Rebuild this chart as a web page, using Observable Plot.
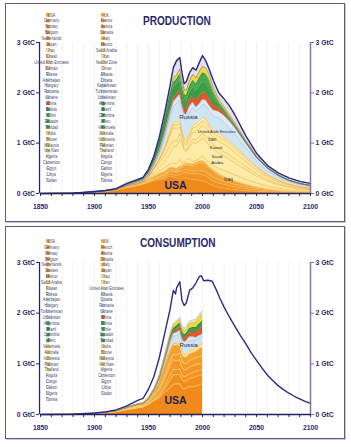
<!DOCTYPE html>
<html><head><meta charset="utf-8">
<script src="https://cdn.jsdelivr.net/npm/d3@7"></script>
<script src="https://cdn.jsdelivr.net/npm/@observablehq/plot@0.6"></script>
<style>
html,body{margin:0;padding:0;background:#fff;}
#page{position:relative;width:351px;height:447px;overflow:hidden;}
.panel{position:absolute;left:5px;width:340px;border:1.5px solid #5d5b8e;box-sizing:border-box;box-shadow:1px 1px 0 #c8c8d8;}
.chart{position:absolute;left:0;}
.title{position:absolute;font-weight:bold;font-size:12px;color:#2b2b6b;font-family:"Liberation Sans",Arial,sans-serif;white-space:nowrap;transform:scaleX(0.84);transform-origin:0 0;}
svg [aria-label="x-axis tick label"], svg [aria-label="y-axis tick label"]{font-weight:bold;}
</style></head><body><div id="page"></div>
<script>
const FONT = '"Liberation Sans",Arial,sans-serif';
// ---------- axes ----------
const decades = [1850,1860,1870,1880,1890,1900,1910,1920,1930,1940,1950,1960,1970,1980,1990,2000,2010,2020,2030,2040,2050,2060,2070,2080,2090,2100];
const xLabelYears = [1850,1900,1950,2000,2050,2100];
const yTicks = [0,1,2,3];

// ---------- PRODUCTION (GtC) ----------
const prodYears = [1850,1880,1900,1910,1920,1930,1940,1945,1950,1955,1960,1965,1970,1973,1976,1979,1981,1983,1985,1988,1991,1994,1997,2000,2003,2006,2010,2015,2020,2025,2030,2040,2050,2060,2070,2080,2090,2100];
const pUSA = [0,0.005,0.02,0.035,0.065,0.11,0.155,0.18,0.21,0.25,0.27,0.29,0.34,0.33,0.3,0.3,0.3,0.3,0.31,0.29,0.27,0.27,0.26,0.25,0.23,0.19,0.15,0.12,0.1,0.085,0.07,0.05,0.035,0.025,0.018,0.013,0.01,0.008];
const pMexico = [0,0,0,0.002,0.01,0.01,0.01,0.01,0.015,0.02,0.025,0.03,0.035,0.04,0.05,0.07,0.09,0.1,0.1,0.1,0.11,0.11,0.12,0.12,0.12,0.11,0.1,0.085,0.075,0.065,0.055,0.04,0.03,0.02,0.015,0.011,0.008,0.006];
const pCanada = [0,0,0,0,0,0,0.002,0.003,0.005,0.02,0.03,0.04,0.06,0.07,0.06,0.06,0.055,0.055,0.06,0.065,0.065,0.07,0.075,0.075,0.075,0.075,0.07,0.065,0.06,0.055,0.05,0.04,0.03,0.022,0.016,0.012,0.008,0.006];
const pUKNorway = [0,0,0,0,0,0,0,0,0,0,0,0,0,0.002,0.015,0.06,0.075,0.09,0.1,0.1,0.1,0.13,0.15,0.165,0.16,0.14,0.12,0.1,0.085,0.075,0.065,0.045,0.03,0.02,0.013,0.009,0.006,0.004];
const pOtherOECD = [0,0,0.005,0.008,0.005,0.02,0.023,0.027,0.04,0.05,0.07,0.08,0.08,0.08,0.07,0.05,0.04,0.04,0.04,0.04,0.04,0.04,0.04,0.04,0.035,0.03,0.03,0.025,0.02,0.018,0.015,0.012,0.01,0.007,0.005,0.004,0.003,0.002];
const pIraq = [0,0,0,0,0,0.002,0.003,0.004,0.007,0.035,0.054,0.075,0.08,0.085,0.095,0.14,0.04,0.045,0.06,0.11,0.05,0.04,0.05,0.11,0.055,0.075,0.09,0.11,0.12,0.118,0.114,0.096,0.073,0.053,0.038,0.027,0.02,0.016];
const pSaudi = [0,0,0,0,0,0,0.001,0.003,0.022,0.05,0.072,0.125,0.205,0.32,0.35,0.4,0.42,0.22,0.15,0.22,0.38,0.33,0.35,0.34,0.37,0.34,0.31,0.3,0.285,0.265,0.24,0.19,0.137,0.096,0.068,0.047,0.033,0.027];
const pKuwait = [0,0,0,0,0,0,0,0.001,0.015,0.06,0.092,0.13,0.16,0.13,0.095,0.11,0.05,0.045,0.043,0.065,0.06,0.08,0.09,0.09,0.095,0.1,0.09,0.09,0.087,0.082,0.077,0.064,0.046,0.033,0.024,0.016,0.012,0.009];
const pIran = [0,0,0,0,0,0.006,0.009,0.015,0.027,0.02,0.058,0.11,0.2,0.25,0.25,0.13,0.06,0.1,0.095,0.095,0.14,0.155,0.155,0.16,0.17,0.16,0.15,0.145,0.14,0.137,0.127,0.1,0.073,0.05,0.036,0.025,0.018,0.015];
const pUAE = [0,0,0,0,0,0,0,0,0,0,0,0.017,0.04,0.065,0.08,0.08,0.065,0.05,0.05,0.06,0.09,0.095,0.095,0.095,0.1,0.095,0.09,0.1,0.095,0.091,0.086,0.068,0.05,0.036,0.025,0.018,0.013,0.01];
const pOtherME = [0,0,0,0,0,0,0.002,0.002,0.004,0.015,0.026,0.033,0.05,0.05,0.05,0.05,0.045,0.045,0.05,0.05,0.055,0.06,0.065,0.065,0.065,0.06,0.055,0.055,0.05,0.046,0.041,0.032,0.023,0.016,0.012,0.008,0.006,0.005];
const pRussia = [0,0.0005,0.003,0.003,0.002,0.005,0.007,0.006,0.012,0.03,0.085,0.18,0.27,0.31,0.37,0.41,0.41,0.4,0.395,0.42,0.35,0.25,0.24,0.26,0.28,0.275,0.285,0.3,0.295,0.27,0.24,0.17,0.11,0.078,0.055,0.042,0.035,0.03];
const pOtherFSU = [0,0,0.007,0.007,0.002,0.01,0.02,0.011,0.023,0.035,0.055,0.08,0.09,0.09,0.1,0.1,0.1,0.1,0.105,0.11,0.1,0.08,0.08,0.09,0.1,0.105,0.115,0.13,0.135,0.13,0.12,0.09,0.06,0.042,0.03,0.023,0.02,0.018];
const pChina = [0,0,0,0,0,0,0,0,0,0,0.004,0.009,0.025,0.045,0.073,0.09,0.086,0.09,0.107,0.117,0.12,0.124,0.137,0.138,0.144,0.14,0.1,0.07,0.045,0.03,0.022,0.012,0.007,0.004,0.003,0.002,0.002,0.001];
const pVenezuela = [0,0,0,0,0.001,0.016,0.023,0.038,0.066,0.12,0.17,0.21,0.235,0.235,0.195,0.195,0.18,0.155,0.145,0.15,0.17,0.18,0.21,0.21,0.18,0.175,0.13,0.06,0.04,0.025,0.02,0.013,0.008,0.005,0.004,0.003,0.003,0.002];
const pOtherLatAm = [0,0,0,0.001,0.003,0.006,0.01,0.012,0.015,0.02,0.035,0.065,0.09,0.1,0.115,0.13,0.13,0.13,0.135,0.14,0.15,0.16,0.18,0.19,0.19,0.185,0.13,0.06,0.04,0.025,0.02,0.012,0.008,0.005,0.004,0.003,0.002,0.002];
const pAsia = [0,0,0.002,0.003,0.004,0.007,0.01,0.003,0.01,0.015,0.025,0.03,0.06,0.08,0.09,0.1,0.1,0.1,0.11,0.115,0.12,0.125,0.13,0.13,0.125,0.12,0.09,0.06,0.05,0.045,0.04,0.025,0.015,0.01,0.008,0.008,0.007,0.006];
const pAfrica = [0,0,0,0,0.003,0.003,0.005,0.005,0.01,0.01,0.05,0.095,0.13,0.225,0.28,0.225,0.154,0.115,0.165,0.153,0.13,0.151,0.173,0.212,0.146,0.105,0.14,0.15,0.16,0.17,0.155,0.09,0.055,0.04,0.036,0.035,0.033,0.03];
const prodTotal = [0,0.006,0.04,0.06,0.095,0.2,0.28,0.32,0.48,0.74,1.12,1.6,2.15,2.5,2.64,2.7,2.4,2.18,2.22,2.4,2.5,2.45,2.6,2.74,2.64,2.48,2.25,2.0,1.88,1.74,1.56,1.15,0.8,0.56,0.41,0.31,0.24,0.2];

const prodLabelText = ["Russia","United Arab Emirates","Iran","Kuwait","Saudi","Arabia","Iraq"];
const prodLabelYear = [1987,2013,2009,2012.5,2013.6,2013.6,2024];
const prodLabelValue = [1.51,1.23,1.07,0.92,0.74,0.61,0.28];
const prodLabelSize = [6,4,4.6,4.2,4.2,4.2,5];

// ---------- CONSUMPTION (GtC) ----------
const consYears = [1850,1880,1900,1910,1920,1930,1940,1945,1950,1955,1960,1965,1970,1973,1976,1979,1981,1983,1985,1988,1991,1994,1997,2000];
const cUSA = [0,0.004,0.015,0.03,0.055,0.095,0.13,0.15,0.2,0.27,0.33,0.43,0.52,0.59,0.6,0.6,0.52,0.5,0.51,0.55,0.54,0.56,0.58,0.6];
const cJapan = [0,0,0,0,0,0.002,0.003,0.001,0.002,0.008,0.025,0.07,0.15,0.19,0.18,0.19,0.17,0.15,0.15,0.16,0.18,0.19,0.19,0.18];
const cGermany = [0,0,0.001,0.002,0.002,0.004,0.005,0.002,0.004,0.01,0.025,0.06,0.1,0.11,0.1,0.11,0.095,0.09,0.09,0.09,0.1,0.1,0.1,0.095];
const cUKFrance = [0,0,0.002,0.005,0.007,0.015,0.02,0.02,0.03,0.05,0.08,0.12,0.19,0.19,0.17,0.18,0.15,0.14,0.13,0.13,0.135,0.13,0.13,0.13];
const cCanMex = [0,0,0.001,0.003,0.004,0.008,0.012,0.015,0.025,0.04,0.055,0.07,0.09,0.1,0.115,0.13,0.13,0.12,0.12,0.125,0.13,0.135,0.14,0.145];
const cOtherOECD = [0,0,0.001,0.005,0.002,0.008,0.012,0.012,0.02,0.042,0.105,0.2,0.22,0.2,0.2,0.17,0.135,0.13,0.13,0.145,0.135,0.135,0.16,0.18];
const cME = [0,0,0,0,0,0,0.002,0.002,0.004,0.006,0.01,0.015,0.02,0.025,0.03,0.04,0.045,0.05,0.055,0.06,0.06,0.065,0.07,0.075];
const cRussia = [0,0,0.002,0.003,0.0015,0.006,0.011,0.009,0.019,0.03,0.052,0.082,0.12,0.142,0.165,0.18,0.187,0.187,0.195,0.2,0.185,0.15,0.135,0.135];
const cOtherFSU = [0,0,0.001,0.001,0.0005,0.002,0.004,0.003,0.006,0.01,0.018,0.028,0.04,0.048,0.055,0.06,0.063,0.063,0.065,0.07,0.065,0.05,0.045,0.045];
const cChina = [0,0,0,0,0,0,0,0,0,0,0.005,0.008,0.02,0.035,0.05,0.06,0.06,0.06,0.07,0.08,0.09,0.1,0.13,0.15];
const cLatAm = [0,0,0,0,0.002,0.004,0.008,0.01,0.015,0.025,0.035,0.045,0.06,0.07,0.08,0.09,0.09,0.085,0.085,0.09,0.095,0.1,0.11,0.115];
const cAsia = [0,0,0,0,0.002,0.004,0.006,0.006,0.01,0.015,0.025,0.035,0.05,0.06,0.065,0.07,0.072,0.075,0.08,0.09,0.1,0.11,0.13,0.135];
const cAfrica = [0,0,0,0,0,0.002,0.003,0.004,0.006,0.01,0.015,0.02,0.03,0.035,0.04,0.045,0.05,0.05,0.05,0.05,0.052,0.055,0.058,0.06];
const consLineYears = [1850,1880,1900,1910,1920,1930,1940,1945,1950,1955,1960,1965,1970,1973,1975,1976,1979,1981,1983,1985,1988,1991,1994,1997,1999,2001,2005,2009,2013,2016,2020,2025,2030,2035,2040,2045,2050,2055,2060,2065,2070,2075,2080,2085,2090,2095,2100];
const consLine = [0,0.005,0.03,0.05,0.09,0.17,0.28,0.32,0.5,0.75,1.12,1.6,2.08,2.45,2.38,2.5,2.62,2.25,2.15,2.2,2.45,2.5,2.6,2.72,2.74,2.64,2.65,2.63,2.45,2.3,2.12,1.92,1.74,1.56,1.4,1.22,1.07,0.92,0.78,0.67,0.57,0.49,0.42,0.36,0.31,0.26,0.22];
const consLabelText = ["Russia"];
const consLabelYear = [1987.3];
const consLabelValue = [1.38];
const consLabelSize = [6];

// ---------- legends ----------
const prodLegend1 = ["USA","Germany","Norway","Belgium","Netherlands","Japan","Iraq","Kuwait","United Arab Emirates","Bahrain","Russia","Azerbaijan","Hungary","Romania","Ukraine","China","Bolivia","Chile","Ecuador","Trinidad","India","Brunei","Malaysia","Viet Nam","Algeria","Cameroon","Egypt","Libya","Sudan"];
const prodLegend1Group = ["oecd","oecd","oecd","oecd","oecd","oecd","me","me","me","me","fsu","fsu","fsu","fsu","fsu","china","latam","latam","latam","latam","asia","asia","asia","asia","africa","africa","africa","africa","africa"];
const prodLegend2 = ["UK","France","Austria","Canada","Italy","Mexico","Saudi Arabia","Iran","Neutral Zone","Oman","Albania","Croatia","Kazakhstan","Turkmenistan","Uzbekistan","Argentina","Brazil","Colombia","Peru","Venezuela","Australia","Indonesia","Pakistan","Thailand","Angola","Congo","Gabon","Nigeria","Tunisia"];
const prodLegend2Group = ["oecd","oecd","oecd","oecd","oecd","oecd","me","me","me","pale","fsu","fsu","fsu","fsu","fsu","latam","latam","latam","latam","latam","asia","asia","asia","asiaPlain","africa","africa","africa","africa","africa"];
const consLegend1 = ["USA","Germany","Norway","Belgium","Netherlands","Sweden","Mexico","Saudi Arabia","Kuwait","Russia","Azerbaijan","Hungary","Turkmenistan","Uzbekistan","Argentina","Brazil","Colombia","Peru","Venezuela","Australia","Indonesia","Pakistan","Thailand","Angola","Congo","Gabon","Nigeria","Tunisia"];
const consLegend1Group = ["oecd","oecd","oecd","oecd","oecd","oecd","oecd","me","me","fsu","fsu","fsu","fsu","fsu","latam","latam","latam","latam","asia","asia","asia","asia","asiaPlain","africa","africa","africa","africa","africa"];
const consLegend2 = ["UK","French","Austria","Canada","Italy","Japan","Iraq","Iran","United Arab Emirates","Albania","Croatia","Romania","Ukraine","China","Bolivia","Chile","Ecuador","Trinidad","India","Brunei","Malaysia","Viet Nam","Algeria","Cameroon","Egypt","Libya","Sudan"];
const consLegend2Group = ["oecd","oecd","oecd","oecd","oecd","oecd","me","me","pale","fsu","fsu","fsu","fsu","china","latam","latam","latam","latam","asia","asia","asia","asia","africa","africa","africa","africa","africa"];

const swatch = {
  oecd:["#f29a22","#f29a22"], me:["#fde9a4","#ee9f2a"], pale:["#fbeeb6","#f3dc94"],
  fsu:["#d6eaf4","#9ec5df"], china:["#e5522a","#e5522a"], latam:["#3c9e44","#3c9e44"],
  asia:["#f3e052","#d9b12a"], asiaPlain:["#f5e35c","#f5e35c"], africa:["#ffffff","#c4c4c4"]
};

// ---------- layer styles ----------
const OR = "#f08a1a", ORL = "#f7b858", ME = "#fbe99e", MEL = "#eea232", FS = "#d0e5f2", FSL = "#8ab6da";
const prodLayers = [
  {name:"USA", values:pUSA, fill:OR, stroke:ORL},
  {name:"Mexico", values:pMexico, fill:"#f19222", stroke:ORL},
  {name:"Canada", values:pCanada, fill:"#f29a28", stroke:ORL},
  {name:"UK & Norway", values:pUKNorway, fill:"#f3a232", stroke:"#f9c970"},
  {name:"Other OECD", values:pOtherOECD, fill:"#f5ae42", stroke:"#f9cf7a"},
  {name:"Iraq", values:pIraq, fill:ME, stroke:MEL},
  {name:"Saudi Arabia", values:pSaudi, fill:"#fbeba6", stroke:MEL},
  {name:"Kuwait", values:pKuwait, fill:ME, stroke:MEL},
  {name:"Iran", values:pIran, fill:"#fbeba6", stroke:MEL},
  {name:"United Arab Emirates", values:pUAE, fill:ME, stroke:MEL},
  {name:"Other Middle East", values:pOtherME, fill:"#fcefb8", stroke:MEL},
  {name:"Russia", values:pRussia, fill:FS, stroke:FSL},
  {name:"Other former USSR", values:pOtherFSU, fill:"#dcecf6", stroke:FSL},
  {name:"China", values:pChina, fill:"#e6542a", stroke:"#d24020"},
  {name:"Venezuela", values:pVenezuela, fill:"#3b9d45", stroke:"#2a8636"},
  {name:"Other Latin America", values:pOtherLatAm, fill:"#48a94f", stroke:"#2a8636"},
  {name:"Asia-Pacific", values:pAsia, fill:"#efd93c", stroke:"#7b4b9e"},
  {name:"Africa", values:pAfrica, fill:"#e2e2e4", stroke:"#b3b3b8"}
];
const CL = "#fbdc78";
const consLayers = [
  {name:"USA", values:cUSA, fill:OR, stroke:CL},
  {name:"Japan", values:cJapan, fill:"#f18e1e", stroke:CL},
  {name:"Germany", values:cGermany, fill:"#f19222", stroke:CL},
  {name:"UK & France", values:cUKFrance, fill:"#f29626", stroke:CL},
  {name:"Canada & Mexico", values:cCanMex, fill:"#f29a2a", stroke:CL},
  {name:"Other OECD", values:cOtherOECD, fill:"#f3a232", stroke:CL},
  {name:"Middle East", values:cME, fill:ME, stroke:MEL},
  {name:"Russia", values:cRussia, fill:FS, stroke:FSL},
  {name:"Other former USSR", values:cOtherFSU, fill:"#dcecf6", stroke:FSL},
  {name:"China", values:cChina, fill:"#e6542a", stroke:"#d24020"},
  {name:"Latin America", values:cLatAm, fill:"#3b9d45", stroke:"#2a8636"},
  {name:"Asia-Pacific", values:cAsia, fill:"#efd93c", stroke:"#d9b12a"},
  {name:"Africa", values:cAfrica, fill:"#e2e2e4", stroke:"#b3b3b8"}
];

function chart(cfg) {
  const rows = [];
  cfg.layers.forEach(L => cfg.years.forEach((yr, i) =>
    rows.push({year: yr, layer: L.name, value: L.values[i], fill: L.fill, stroke: L.stroke})));
  const line = cfg.lineYears.map((yr, i) => ({year: yr, value: cfg.lineValues[i]}));
  const labels = cfg.labelText.map((t, i) => ({text: t, year: cfg.labelYear[i], value: cfg.labelValue[i], size: cfg.labelSize[i]}));
  const big = [{text: "USA", year: cfg.usa[0], value: cfg.usa[1]}];
  const svg = Plot.plot({
    width: 351, height: 222,
    marginLeft: 40, marginRight: 41, marginTop: cfg.mt, marginBottom: cfg.mb,
    x: {domain: [1850, 2100]},
    y: {domain: [0, 3]},
    color: {type: "identity"},
    style: {background: "transparent", fontFamily: FONT, fontSize: "6.8px", color: "#2a2a5c", overflow: "visible"},
    marks: [
      Plot.ruleX(decades, {y1: 0, y2: 3, stroke: "#ececf2", strokeWidth: 0.7}),
      Plot.areaY(rows, {x: "year", y: "value", z: "layer", fill: "fill"}),
      Plot.lineY(rows, Plot.stackY2({x: "year", y: "value", z: "layer", stroke: "stroke", strokeWidth: 0.5})),
      Plot.lineY(line, {x: "year", y: "value", stroke: "#2e2a86", strokeWidth: 1.4}),
      Plot.text(labels, {x: "year", y: "value", text: "text", fontSize: "size", fill: "#2a2a40"}),
      Plot.text(big, {x: "year", y: "value", text: "text", fontSize: 10.5, fontWeight: "bold", fill: "#1e1e58"}),
      Plot.ruleY([0], {stroke: "#23235f", strokeWidth: 1.3}),
      Plot.ruleX([1850], {y1: 0, y2: 3, stroke: "#23235f", strokeWidth: 1.2, dx: -1}),
      Plot.ruleX([2100], {y1: 0, y2: 3, stroke: "#7b72b8", strokeWidth: 1.5}),
      Plot.axisX({ticks: decades, tickFormat: d => xLabelYears.includes(d) ? String(d) : "", label: null, tickSize: 3, tickPadding: 7.5, stroke: "#23235f", fill: "#2a2a5c", fontWeight: "bold"}),
      Plot.axisY({anchor: "left", ticks: yTicks, tickFormat: d => `${d} GtC`, label: null, tickSize: 3, tickPadding: 1.5, dx: -1, stroke: "#23235f", fill: "#2a2a5c", fontWeight: "bold"}),
      Plot.axisY({anchor: "right", ticks: yTicks, tickFormat: d => `${d} GtC`, label: null, tickSize: 3, tickPadding: 2, stroke: "#7b72b8", fill: "#2a2a5c", fontWeight: "bold"})
    ]
  });
  // legend
  const g = d3.select(svg).append("g").attr("font-family", FONT);
  const drawCol = (names, groups, x, y0, step) => names.forEach((n, i) => {
    const y = y0 + i * step, s = swatch[groups[i]];
    g.append("rect").attr("x", x).attr("y", y - 1.5).attr("width", 3).attr("height", 3)
      .attr("fill", s[0]).attr("stroke", s[1]).attr("stroke-width", 0.5);
    g.append("text").attr("transform", `translate(${x + 5},${y + 1.8}) scale(0.72,1)`)
      .attr("font-size", 5.1).attr("fill", "#45456a").text(n);
  });
  drawCol(cfg.leg1, cfg.leg1g, 46.5, cfg.legY0, cfg.legStep);
  drawCol(cfg.leg2, cfg.leg2g, 101.5, cfg.legY0, cfg.legStep);
  return svg;
}

const page = document.getElementById("page");
function addPanel(top, height, svgTop, title, titleLeft, titleTop, cfg) {
  const frame = document.createElement("div");
  frame.className = "panel"; frame.style.top = top + "px"; frame.style.height = height + "px";
  page.appendChild(frame);
  const svg = chart(cfg);
  svg.classList.add("chart"); svg.style.top = svgTop + "px"; svg.style.position = "absolute";
  page.appendChild(svg);
  const t = document.createElement("div");
  t.className = "title"; t.textContent = title; t.style.left = titleLeft + "px"; t.style.top = titleTop + "px";
  page.appendChild(t);
}

addPanel(3, 219, 0, "PRODUCTION", 143, 13.5, {
  years: prodYears, layers: prodLayers, lineYears: prodYears, lineValues: prodTotal,
  labelText: prodLabelText, labelYear: prodLabelYear, labelValue: prodLabelValue, labelSize: prodLabelSize,
  usa: [1975, 0.16], mt: 42, mb: 29,
  leg1: prodLegend1, leg1g: prodLegend1Group, leg2: prodLegend2, leg2g: prodLegend2Group, legY0: 14.7, legStep: 5.91
});
addPanel(226, 213, 225, "CONSUMPTION", 139.5, 235.5, {
  years: consYears, layers: consLayers, lineYears: consLineYears, lineValues: consLine,
  labelText: consLabelText, labelYear: consLabelYear, labelValue: consLabelValue, labelSize: consLabelSize,
  usa: [1975, 0.28], mt: 37, mb: 33,
  leg1: consLegend1, leg1g: consLegend1Group, leg2: consLegend2, leg2g: consLegend2Group, legY0: 16.2, legStep: 5.84
});
</script></body></html>
